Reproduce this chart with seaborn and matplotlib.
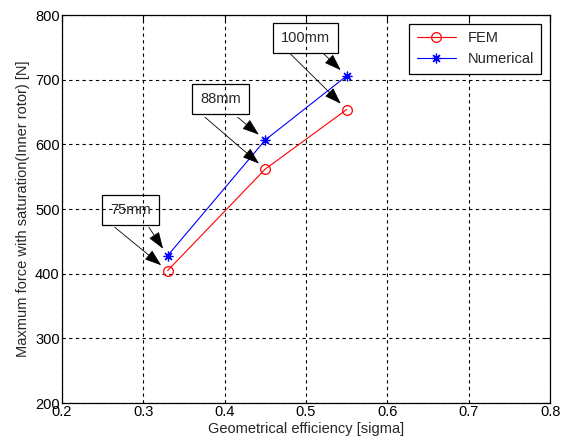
import matplotlib
matplotlib.use("Agg")
import matplotlib.pyplot as plt
import seaborn as sns
import pandas as pd

# Geometrical efficiency vs. maximum force (inner rotor, with saturation)
sigma = [0.33, 0.45, 0.55]
force_fem = [405, 562, 654]
force_numerical = [428, 607, 706]
sizes = ["75mm", "88mm", "100mm"]

x_ticks = [0.2, 0.3, 0.4, 0.5, 0.6, 0.7, 0.8]
y_ticks = [200, 300, 400, 500, 600, 700, 800]

sns.set_style("white")
plt.rcParams["font.family"] = ["Liberation Sans", "DejaVu Sans"]
plt.rcParams["font.size"] = 10.5

fem = pd.DataFrame({"sigma": sigma, "force": force_fem})
num = pd.DataFrame({"sigma": sigma, "force": force_numerical})

fig = plt.figure(figsize=(5.62, 4.44), dpi=100)
ax = fig.add_axes([0.110, 0.092, 0.869, 0.874])

sns.lineplot(data=fem, x="sigma", y="force", ax=ax, color="red", lw=0.8,
             marker="o", markersize=7, markerfacecolor="none",
             markeredgecolor="red", markeredgewidth=0.9, label="FEM")
sns.lineplot(data=num, x="sigma", y="force", ax=ax, color="blue", lw=0.8,
             marker=(8, 2, 0), markersize=7, markeredgecolor="blue",
             markeredgewidth=0.9, label="Numerical")

ax.set_xlim(0.2, 0.8)
ax.set_ylim(200, 800)
ax.set_xticks(x_ticks)
ax.set_yticks(y_ticks)
ax.set_xticklabels([f"{v:g}" for v in x_ticks])
ax.grid(True, color="black", linestyle=(0, (3, 3)), linewidth=0.8)
ax.tick_params(direction="in", top=True, right=True, length=4, width=0.8,
               colors="black", labelsize=10.5, pad=1.5)
for s in ax.spines.values():
    s.set_color("black")
    s.set_linewidth(0.9)

ax.set_xlabel("Geometrical efficiency [sigma]", fontsize=10.5, labelpad=2)
ax.set_ylabel("Maxmum force with saturation(Inner rotor) [N]", fontsize=10.5,
              labelpad=4)

# Size labels with arrows to each pair of points
box_centers = [(0.284, 498), (0.395, 670), (0.499, 765)]
arrow_starts = [((0.265, 472), (0.307, 472)),
                ((0.376, 642), (0.416, 642)),
                ((0.480, 741), (0.521, 741))]
for i, lab in enumerate(sizes):
    bx, by = box_centers[i]
    ax.text(bx, by, lab, ha="center", va="center", fontsize=10.5,
            bbox=dict(boxstyle="square,pad=0.55", facecolor="none",
                      edgecolor="black", linewidth=0.9), zorder=5)
    (sx1, sy1), (sx2, sy2) = arrow_starts[i]
    for (sx, sy), py in (((sx1, sy1), force_fem[i]),
                         ((sx2, sy2), force_numerical[i])):
        ax.annotate("", xy=(sigma[i], py), xytext=(sx, sy),
                    arrowprops=dict(arrowstyle="-|>,head_length=1.0,head_width=0.35",
                                    color="black", lw=0.6, shrinkA=0,
                                    shrinkB=6), zorder=6)

leg = ax.legend(loc="upper right", fancybox=False, edgecolor="black",
                framealpha=1, fontsize=10.5, borderaxespad=0.6,
                handlelength=2.7, borderpad=0.5, labelspacing=0.5)
leg.get_frame().set_linewidth(0.9)

fig.savefig("out.png", dpi=100)
